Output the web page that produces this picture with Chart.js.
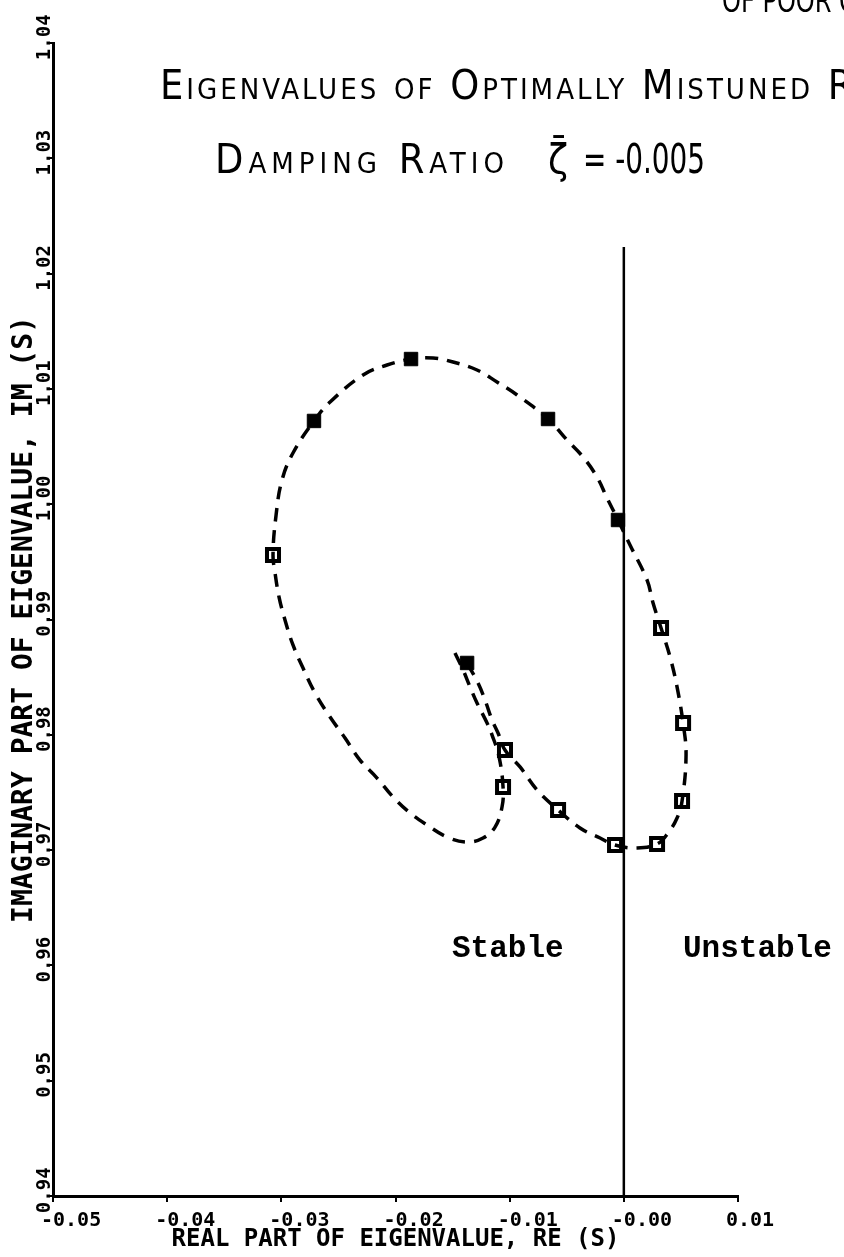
<!DOCTYPE html>
<html>
<head>
<meta charset="utf-8">
<script src="https://cdn.jsdelivr.net/npm/chart.js@4.4.1/dist/chart.umd.min.js"></script>
<style>
  html, body { margin: 0; padding: 0; background: #fff; }
  #wrap { width: 844px; height: 1257px; }
</style>
</head>
<body>
<div id="wrap"><canvas id="eigChart" width="844" height="1257"></canvas></div>
<script>
// Eigenvalue locus, in path order (real part / imaginary part)
const locusRe = [-0.01479, -0.01408, -0.01347, -0.01286, -0.01198, -0.01154, -0.01093, -0.01058, -0.01067, -0.01128,
  -0.01233, -0.01373, -0.01549, -0.01724, -0.01873, -0.02022, -0.02162, -0.02311, -0.02442, -0.02573,
  -0.02705, -0.02810, -0.02898, -0.02968, -0.03020, -0.03055, -0.03073, -0.03046, -0.02994, -0.02898,
  -0.02714, -0.02573, -0.02284, -0.02074, -0.01864, -0.01671, -0.01496, -0.01286, -0.01111, -0.00935,
  -0.00664, -0.00498, -0.00357, -0.00235, -0.00147, -0.00051, 0.00054, 0.00203, 0.00256, 0.00326,
  0.00405, 0.00466, 0.00519, 0.00545, 0.00510, 0.00466, 0.00387, 0.00291, 0.00116, -0.00077,
  -0.00208, -0.00384, -0.00576, -0.00760, -0.00909, -0.01041, -0.01102, -0.01154, -0.01216, -0.01277,
  -0.01373];
const locusIm = [0.98709, 0.98562, 0.98415, 0.98276, 0.98102, 0.97998, 0.97808, 0.97547, 0.97374, 0.97200,
  0.97105, 0.97070, 0.97114, 0.97218, 0.97322, 0.97461, 0.97625, 0.97781, 0.97972, 0.98154,
  0.98363, 0.98579, 0.98779, 0.98996, 0.99195, 0.99403, 0.99559, 0.99906, 1.00210, 1.00444,
  1.00722, 1.00886, 1.01121, 1.01207, 1.01259, 1.01268, 1.01233, 1.01164, 1.01060, 1.00947,
  1.00739, 1.00557, 1.00409, 1.00236, 1.00054, 0.99863, 0.99646, 0.99343, 0.99143, 0.98926,
  0.98675, 0.98415, 0.98102, 0.97825, 0.97426, 0.97278, 0.97148, 0.97053, 0.97018, 0.97044,
  0.97105, 0.97192, 0.97348, 0.97521, 0.97721, 0.97868, 0.98016, 0.98128, 0.98302, 0.98449,
  0.98623];

// computed eigenvalues, solid symbols
const solidRe = [-0.01864, -0.02714, -0.00664, -0.00051, -0.01373];
const solidIm = [1.01259, 1.00722, 1.00739, 0.99863, 0.98623];

// computed eigenvalues, open symbols
const openRe = [-0.03073, 0.00326, 0.00519, 0.00510, 0.00291, -0.00077, -0.00576, -0.01041, -0.01058];
const openIm = [0.99559, 0.98926, 0.98102, 0.97426, 0.97053, 0.97044, 0.97348, 0.97868, 0.97547];

// stability boundary Re(s) = 0
const boundaryRe = [0, 0];
const boundaryIm = [0.94, 1.0223];

const xTicks = [-0.05, -0.04, -0.03, -0.02, -0.01, 0.00, 0.01];
const xTickLabels = ['-0.05', '-0.04', '-0.03', '-0.02', '-0.01', '-0.00', '0.01'];
const yTicks = [0.94, 0.95, 0.96, 0.97, 0.98, 0.99, 1.00, 1.01, 1.02, 1.03, 1.04];
const yTickLabels = ['0.94', '0.95', '0.96', '0.97', '0.98', '0.99', '1.00', '1.01', '1.02', '1.03', '1.04'];

const toPoints = (xs, ys) => xs.map((x, i) => ({ x: x, y: ys[i] }));

// draw one piece of lettering; squeeze it horizontally to a given width if asked
function letter(ctx, text, x, y, font, spacing, width) {
    ctx.save();
    ctx.font = font;
    ctx.letterSpacing = (spacing || 0) + 'px';
    const sx = width ? width / ctx.measureText(text).width : 1;
    ctx.translate(x, y);
    ctx.scale(sx, 1);
    ctx.fillText(text, 0, 0);
    ctx.restore();
}

// rotated y tick labels (decimal point on the tick) and the free text on the sheet
const sheetText = {
    id: 'sheetText',
    afterDraw(chart) {
        const ctx = chart.ctx;
        const yScale = chart.scales.y;
        ctx.save();
        ctx.fillStyle = '#000';
        ctx.textBaseline = 'alphabetic';
        ctx.textAlign = 'left';

        ctx.font = 'bold 19px "DejaVu Sans Mono"';
        yTicks.forEach((v, i) => {
            const label = yTickLabels[i];
            const py = yScale.getPixelForValue(v);
            const head = ctx.measureText(label.slice(0, label.indexOf('.'))).width + ctx.measureText('.').width / 2;
            ctx.save();
            ctx.translate(yScale.right - 3, py);
            ctx.rotate(-Math.PI / 2);
            ctx.fillText(label, -head, 0);
            ctx.restore();
        });

        // title lines
        letter(ctx, 'Eigenvalues of Optimally Mistuned R', 160, 99, 'small-caps 41px "DejaVu Sans Condensed"', 3);
        letter(ctx, 'Damping Ratio', 215, 173, 'small-caps 41px "DejaVu Sans Condensed"', 5);
        letter(ctx, '\u03B6\u0304', 548, 173, '41px "DejaVu Sans Condensed"', 0);
        letter(ctx, '= -0.005', 583, 173, '41px "DejaVu Sans Condensed"', 0, 122);

        // stamp at the top edge
        letter(ctx, 'OF POOR Q', 722, 12, '32px "DejaVu Sans Condensed"', 0, 136);

        // region labels
        ctx.font = 'bold 31px "Liberation Mono"';
        ctx.fillText('Stable', 452, 957);
        ctx.fillText('Unstable', 683, 957);
        ctx.restore();
    }
};

const ctx = document.getElementById('eigChart').getContext('2d');
const eigChart = new Chart(ctx, {
    type: 'scatter',
    data: {
        datasets: [
            {
                label: 'Re(s) = 0',
                data: toPoints(boundaryRe, boundaryIm),
                showLine: true,
                borderColor: '#000',
                borderWidth: 2.5,
                pointRadius: 0
            },
            {
                label: 'Locus',
                data: toPoints(locusRe, locusIm),
                showLine: true,
                borderColor: '#000',
                borderWidth: 3.5,
                borderDash: [13, 9],
                tension: 0.4,
                pointRadius: 0
            },
            {
                label: 'Solid',
                data: toPoints(solidRe, solidIm),
                pointStyle: 'rect',
                pointRadius: 9.5,
                backgroundColor: '#000',
                borderColor: '#000',
                borderWidth: 1
            },
            {
                label: 'Open',
                data: toPoints(openRe, openIm),
                pointStyle: 'rect',
                pointRadius: 8.5,
                backgroundColor: '#fff',
                borderColor: '#000',
                borderWidth: 4
            }
        ]
    },
    options: {
        responsive: false,
        animation: false,
        layout: { padding: { top: 43, right: 106, left: 0, bottom: 0 } },
        plugins: {
            legend: { display: false },
            tooltip: { enabled: false }
        },
        scales: {
            x: {
                type: 'linear',
                min: -0.05,
                max: 0.01,
                afterBuildTicks: s => { s.ticks = xTicks.map(v => ({ value: v })); },
                afterFit: s => { s.height = 61; },
                ticks: {
                    autoSkip: false,
                    maxRotation: 0,
                    align: 'start',
                    labelOffset: -12,
                    padding: 7,
                    color: '#000',
                    font: { family: 'DejaVu Sans Mono', weight: 'bold', size: 20 },
                    callback: (v, i) => xTickLabels[i]
                },
                grid: { drawOnChartArea: false, drawTicks: true, tickLength: 6, color: '#000', lineWidth: 2 },
                border: { display: true, color: '#000', width: 3 },
                title: {
                    display: true,
                    text: 'REAL PART OF EIGENVALUE, RE (S)',
                    color: '#000',
                    font: { family: 'DejaVu Sans Mono', weight: 'bold', size: 24 },
                    padding: { top: 0, bottom: 3 }
                }
            },
            y: {
                type: 'linear',
                min: 0.94,
                max: 1.04,
                afterBuildTicks: s => { s.ticks = yTicks.map(v => ({ value: v })); },
                afterFit: s => { s.width = 53; },
                ticks: { display: false },
                grid: { drawOnChartArea: false, drawTicks: true, tickLength: 6, color: '#000', lineWidth: 2 },
                border: { display: true, color: '#000', width: 3 },
                title: {
                    display: true,
                    text: 'IMAGINARY PART OF EIGENVALUE, IM (S)',
                    color: '#000',
                    font: { family: 'DejaVu Sans Mono', weight: 'bold', size: 28 },
                    padding: { top: 8, bottom: 0 }
                }
            }
        }
    },
    plugins: [sheetText]
});
</script>
</body>
</html>
